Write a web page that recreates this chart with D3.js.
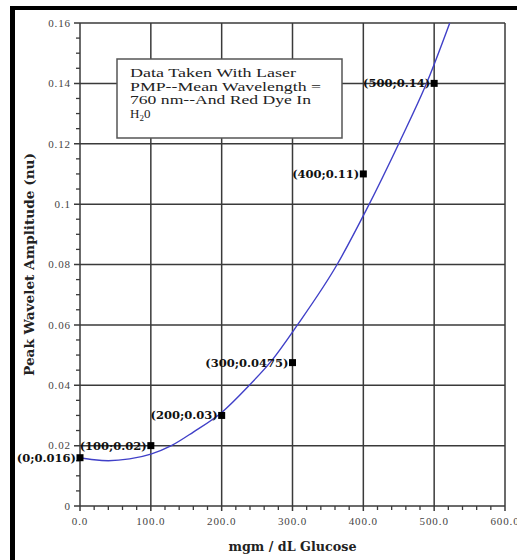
<!DOCTYPE html>
<html>
<head>
<meta charset="utf-8">
<script src="https://cdn.jsdelivr.net/npm/d3@7"></script>
<style>
  html, body { margin: 0; padding: 0; background: #fff; }
  svg { display: block; }
</style>
</head>
<body>
<svg id="chart" width="517" height="560"></svg>
<script>
// Measured points: glucose concentration (mgm/dL) vs peak wavelet amplitude (nu)
const glucose = [0, 100, 200, 300, 400, 500];
const amplitude = [0.016, 0.02, 0.03, 0.0475, 0.11, 0.14];
const pointLabels = ["(0;0.016)", "(100;0.02)", "(200;0.03)", "(300;0.0475)", "(400;0.11)", "(500;0.14)"];

// Trend curve through the data (sampled along the fitted line)
const trendX = [0, 20, 40, 70, 100, 129, 160, 200, 239, 270, 307, 363, 404, 452, 491, 522];
const trendY = [0.016, 0.0153, 0.015, 0.0156, 0.0172, 0.02, 0.0245, 0.031, 0.04, 0.048, 0.06, 0.08, 0.098, 0.121, 0.141, 0.16];

// Axis ticks
const xTicks = [0, 100, 200, 300, 400, 500, 600];
const xTickLabels = ["0.0", "100.0", "200.0", "300.0", "400.0", "500.0", "600.0"];
const yTicks = [0, 0.02, 0.04, 0.06, 0.08, 0.1, 0.12, 0.14, 0.16];
const yTickLabels = ["0", "0.02", "0.04", "0.06", "0.08", "0.1", "0.12", "0.14", "0.16"];

const noteLines = ["Data Taken With Laser", "PMP--Mean Wavelength =", "760 nm--And Red Dye In"];

const SERIF_REG = "'Liberation Serif', 'DejaVu Serif', serif";
const SERIF_BOLD = "'DejaVu Serif', 'Liberation Serif', serif";

const svg = d3.select("#chart");
const plot = { left: 80, right: 505, top: 23, bottom: 506 };

const x = d3.scaleLinear().domain([0, 600]).range([plot.left, plot.right]);
const y = d3.scaleLinear().domain([0, 0.16]).range([plot.bottom, plot.top]);

svg.append("rect").attr("width", 517).attr("height", 560).attr("fill", "#fff");

// Frame bars on the left and top edges
svg.append("rect").attr("x", 10).attr("y", 6).attr("width", 507).attr("height", 4).attr("fill", "#000");
svg.append("rect").attr("x", 10).attr("y", 6).attr("width", 5).attr("height", 554).attr("fill", "#000");

const gridColor = "#3a3a3a";

// Minor ticks
const xMinor = d3.range(0, 601, 20).filter(v => v % 100 !== 0);
const yMinor = d3.range(0, 0.1601, 0.005).filter(v => Math.abs(v / 0.02 - Math.round(v / 0.02)) > 1e-6);

svg.append("g").selectAll("line").data(xMinor).join("line")
  .attr("x1", d => x(d)).attr("x2", d => x(d))
  .attr("y1", plot.bottom).attr("y2", plot.bottom + 4)
  .attr("stroke", gridColor).attr("stroke-width", 1.3);

svg.append("g").selectAll("line").data(yMinor).join("line")
  .attr("x1", plot.left - 4).attr("x2", plot.left)
  .attr("y1", d => y(d)).attr("y2", d => y(d))
  .attr("stroke", gridColor).attr("stroke-width", 1.3);

// Major grid lines, extended outward as ticks
svg.append("g").selectAll("line").data(xTicks).join("line")
  .attr("x1", d => x(d)).attr("x2", d => x(d))
  .attr("y1", plot.top).attr("y2", plot.bottom + 5)
  .attr("stroke", gridColor).attr("stroke-width", 1.5);

svg.append("g").selectAll("line").data(yTicks).join("line")
  .attr("x1", plot.left - 6).attr("x2", plot.right)
  .attr("y1", d => y(d)).attr("y2", d => y(d))
  .attr("stroke", gridColor).attr("stroke-width", 1.5);

// Tick labels
svg.append("g").selectAll("text").data(xTicks).join("text")
  .attr("x", d => x(d)).attr("y", 525)
  .attr("text-anchor", "middle")
  .attr("font-family", SERIF_REG)
  .attr("font-size", 11).attr("letter-spacing", 0.9)
  .attr("fill", "#444")
  .text((d, i) => xTickLabels[i]);

svg.append("g").selectAll("text").data(yTicks).join("text")
  .attr("x", 71).attr("y", d => y(d)).attr("dy", "0.35em")
  .attr("text-anchor", "end")
  .attr("font-family", SERIF_REG)
  .attr("font-size", 11).attr("letter-spacing", 0.9)
  .attr("fill", "#444")
  .text((d, i) => yTickLabels[i]);

// Axis titles
svg.append("text")
  .attr("x", (plot.left + plot.right) / 2).attr("y", 551)
  .attr("text-anchor", "middle")
  .attr("font-family", SERIF_BOLD)
  .attr("font-size", 12).attr("font-weight", "bold").attr("fill", "#222")
  .attr("textLength", 128).attr("lengthAdjust", "spacingAndGlyphs")
  .text("mgm / dL Glucose");

svg.append("text")
  .attr("transform", `translate(34, ${(plot.top + plot.bottom) / 2}) rotate(-90)`)
  .attr("text-anchor", "middle")
  .attr("font-family", SERIF_BOLD)
  .attr("font-size", 12).attr("font-weight", "bold").attr("fill", "#222")
  .attr("textLength", 223).attr("lengthAdjust", "spacingAndGlyphs")
  .text("Peak Wavelet Amplitude (nu)");

// Note box
const note = svg.append("g");
note.append("rect")
  .attr("x", 117).attr("y", 59).attr("width", 225).attr("height", 79)
  .attr("fill", "#fff").attr("stroke", "#555").attr("stroke-width", 1.5);
const noteWidths = [166, 191, 181];
noteLines.forEach((t, i) => {
  note.append("text")
    .attr("x", 130).attr("y", 77 + i * 13.5)
    .attr("font-family", SERIF_REG)
    .attr("font-size", 13).attr("fill", "#222")
    .attr("textLength", noteWidths[i]).attr("lengthAdjust", "spacingAndGlyphs")
    .text(t);
});
const h2o = note.append("text").attr("x", 130).attr("y", 77 + 3 * 13.5)
  .attr("font-family", SERIF_REG)
  .attr("font-size", 13).attr("fill", "#222");
h2o.append("tspan").text("H");
h2o.append("tspan").attr("font-size", 9).attr("dy", 3).text("2");
h2o.append("tspan").attr("dy", -3).text("0");

// Trend curve
svg.append("defs").append("clipPath").attr("id", "plotClip")
  .append("rect").attr("x", plot.left).attr("y", plot.top)
  .attr("width", plot.right - plot.left).attr("height", plot.bottom - plot.top);

const line = d3.line()
  .x((d, i) => x(trendX[i]))
  .y(d => y(d))
  .curve(d3.curveMonotoneX);

svg.append("path")
  .datum(trendY)
  .attr("clip-path", "url(#plotClip)")
  .attr("d", line)
  .attr("fill", "none")
  .attr("stroke", "#4040c8")
  .attr("stroke-width", 1.4);

// Data markers and value labels
const pts = glucose.map((g, i) => ({ g, a: amplitude[i], label: pointLabels[i] }));

svg.append("g").selectAll("text").data(pts).join("text")
  .attr("x", d => x(d.g) - 4).attr("y", d => y(d.a)).attr("dy", "0.35em")
  .attr("text-anchor", "end")
  .attr("font-family", SERIF_BOLD)
  .attr("font-size", 11.5).attr("font-weight", "bold").attr("fill", "#111")
  .text(d => d.label);

svg.append("g").selectAll("rect").data(pts).join("rect")
  .attr("x", d => x(d.g) - 3.5).attr("y", d => y(d.a) - 3.5)
  .attr("width", 7).attr("height", 7)
  .attr("fill", "#000");
</script>
</body>
</html>
